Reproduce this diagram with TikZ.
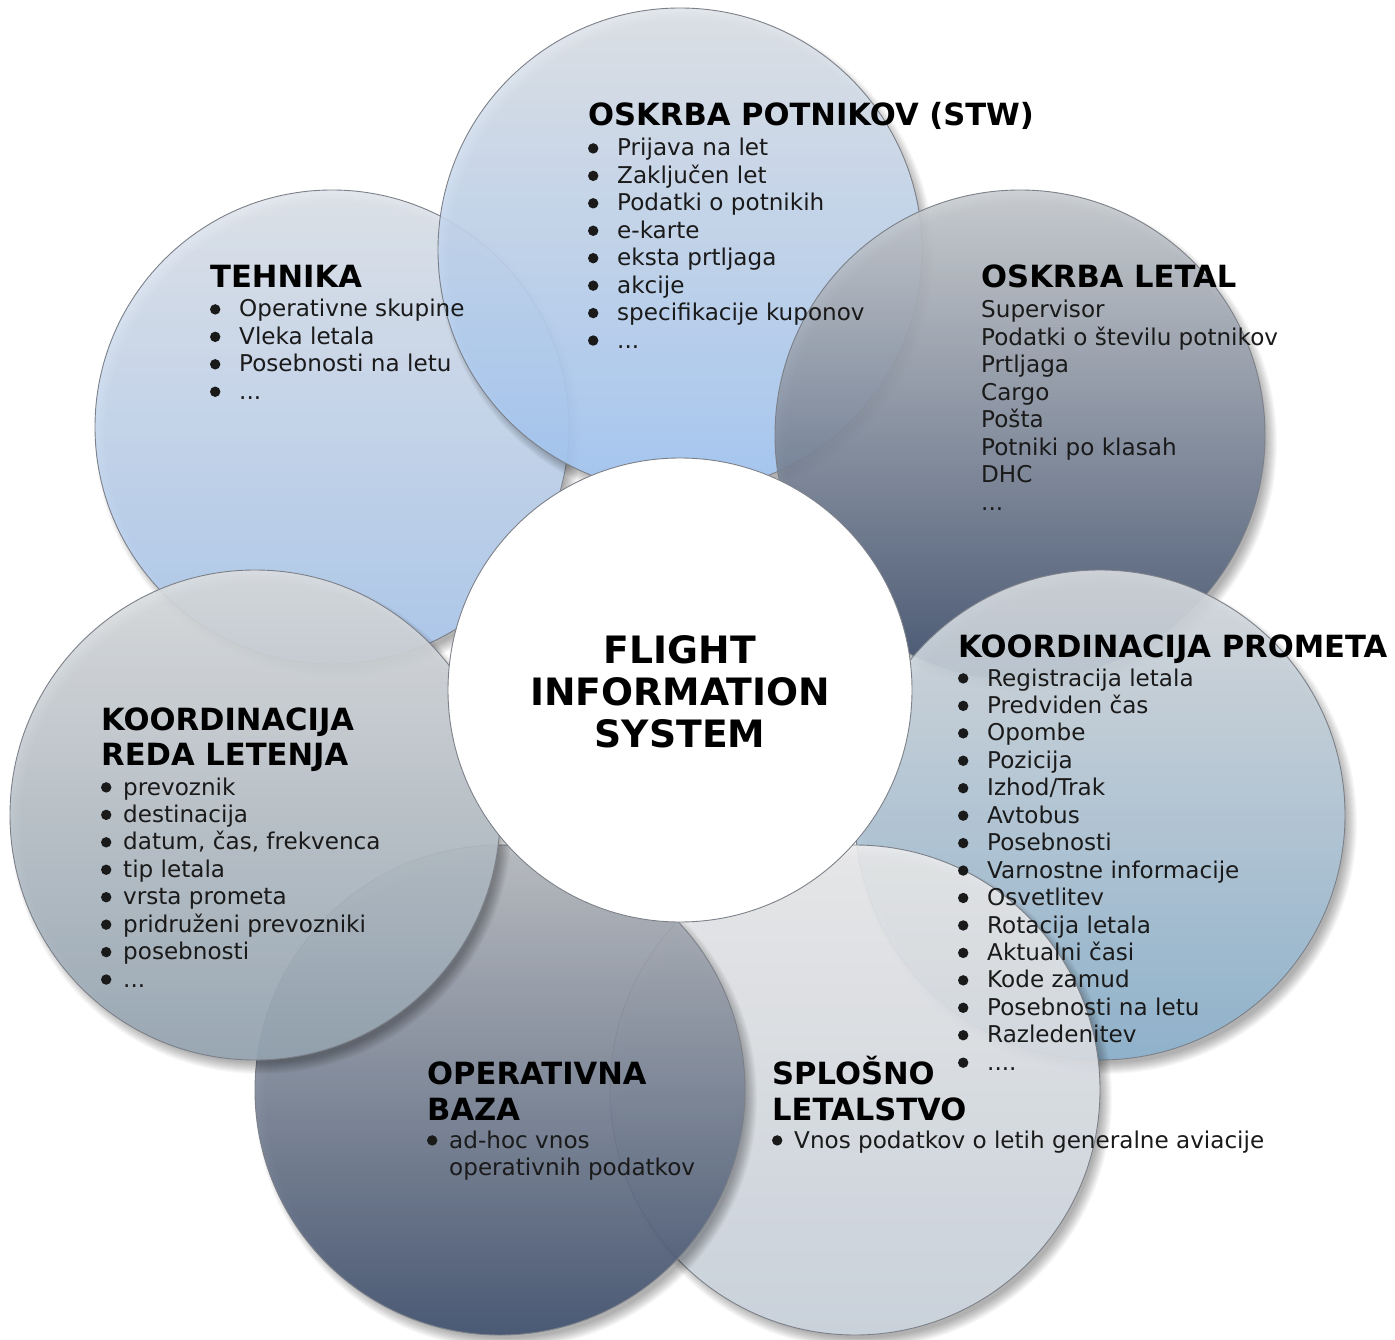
\documentclass[tikz,border=0pt]{standalone}
\usepackage{fontspec}
\setmainfont{DejaVu Sans}
\definecolor{txt}{HTML}{1A1A1A}
\definecolor{rim}{HTML}{7C8088}
\definecolor{techA}{HTML}{E0E5EC}\definecolor{techB}{HTML}{ABC9F0}
\definecolor{potnA}{HTML}{E0E4E9}\definecolor{potnB}{HTML}{A4C8F6}
\definecolor{letA}{HTML}{C9CDD1}\definecolor{letB}{HTML}{3E4E6C}
\definecolor{kpA}{HTML}{D9DCE0}\definecolor{kpB}{HTML}{8CB2CE}
\definecolor{slA}{HTML}{ECECED}\definecolor{slB}{HTML}{CCD5DF}
\definecolor{obA}{HTML}{B8BCC1}\definecolor{obB}{HTML}{40506E}
\definecolor{krlA}{HTML}{DCDEE0}\definecolor{krlB}{HTML}{97A7B4}
\newcommand\threedots{...}
\newcommand\fourdots{....}
\newcommand\shadowat[3]{%
  \foreach \k in {0,...,11} {\fill[black, opacity=0.028] (#1+6,#2+8) circle ({#3+6-\k});}}
% bullet x, text x, first baseline, name prefix, items
\newcommand\blist[5]{%
  \foreach \t [count=\i from 0] in {#5} {%
    \fill[txt] (#1+5.2, #3+27.45*\i-7.6) circle (5.2);
    \node[item, anchor=base west] (#4\i) at (#2, #3+27.45*\i) {\t};}}
\newcommand\plist[4]{%
  \foreach \t [count=\i from 0] in {#4} {%
    \node[item, anchor=base west] (#3\i) at (#1, #2+27.45*\i) {\t};}}
\begin{document}
\begin{tikzpicture}[x=1pt,y=-1pt,
  bubble/.style={circle, inner sep=0pt, draw=rim, line width=0.9pt, fill opacity=0.9},
  ttl/.style={font=\fontsize{30.6}{35}\selectfont\bfseries, text=black, inner sep=0pt},
  item/.style={font=\fontsize{23.1}{27}\selectfont, text=txt, inner sep=0pt},
  big/.style={font=\fontsize{37.7}{42}\selectfont\bfseries, text=black, inner sep=0pt}]
\useasboundingbox (0,0) rectangle (1395,1340);
\fill[white] (0,0) rectangle (1395,1340);

% outer bubbles, in stacking order
\shadowat{332}{427}{237}
\node[bubble, minimum size=474pt, top color=techA, bottom color=techB] (tech) at (332,427) {};
\shadowat{680}{250}{242}
\node[bubble, minimum size=484pt, top color=potnA, bottom color=potnB] (potn) at (680,250) {};
\shadowat{1020}{435}{245}
\node[bubble, minimum size=490pt, top color=letA, bottom color=letB] (letal) at (1020,435) {};
\shadowat{1100}{815}{245}
\node[bubble, minimum size=490pt, top color=kpA, bottom color=kpB] (kp) at (1100,815) {};
\shadowat{855}{1090}{245}
\node[bubble, minimum size=490pt, top color=slA, bottom color=slB] (sl) at (855,1090) {};
\shadowat{500}{1090}{245}
\node[bubble, minimum size=490pt, top color=obA, bottom color=obB] (ob) at (500,1090) {};
\shadowat{255}{815}{245}
\node[bubble, minimum size=490pt, top color=krlA, bottom color=krlB] (krl) at (255,815) {};

% centre
\node[circle, inner sep=0pt, minimum size=464pt, fill=white, draw=rim, line width=0.9pt] (fis) at (680,690) {};
\node[big, anchor=base] (f1) at (680,663.5) {FLIGHT};
\node[big, anchor=base] (f2) at (680,705.5) {INFORMATION};
\node[big, anchor=base] (f3) at (680,747.5) {SYSTEM};

% OSKRBA POTNIKOV
\node[ttl, anchor=base west] (tp) at (588,126) {OSKRBA POTNIKOV (STW)};
\blist{588}{617}{156}{p}{Prijava na let, Zaključen let, Podatki o potnikih, e-karte, eksta prtljaga, akcije, specifikacije kuponov, \threedots}

% TEHNIKA
\node[ttl, anchor=base west] (tt) at (210,288) {TEHNIKA};
\blist{210}{239}{317}{t}{Operativne skupine, Vleka letala, Posebnosti na letu, \threedots}

% OSKRBA LETAL
\node[ttl, anchor=base west] (tl) at (981,288) {OSKRBA LETAL};
\plist{981}{318}{l}{Supervisor, Podatki o številu potnikov, Prtljaga, Cargo, Pošta, Potniki po klasah, DHC, \threedots}

% KOORDINACIJA PROMETA
\node[ttl, anchor=base west] (tk) at (958,657) {KOORDINACIJA PROMETA};
\blist{958}{987}{686}{k}{Registracija letala, Predviden čas, Opombe, Pozicija, Izhod/Trak, Avtobus, Posebnosti, Varnostne informacije, Osvetlitev, Rotacija letala, Aktualni časi, Kode zamud, Posebnosti na letu, Razledenitev, \fourdots}

% KOORDINACIJA REDA LETENJA
\node[ttl, anchor=base west] (tr1) at (101,730) {KOORDINACIJA};
\node[ttl, anchor=base west] (tr2) at (101,765) {REDA LETENJA};
\blist{101}{123}{795}{r}{prevoznik, destinacija, {datum, čas, frekvenca}, tip letala, vrsta prometa, pridruženi prevozniki, posebnosti, \threedots}

% OPERATIVNA BAZA
\node[ttl, anchor=base west] (to1) at (427,1084) {OPERATIVNA};
\node[ttl, anchor=base west] (to2) at (427,1120) {BAZA};
\blist{427}{449}{1148}{o}{ad-hoc vnos}
\node[item, anchor=base west] (o1) at (449,1175.5) {operativnih podatkov};

% SPLOSNO LETALSTVO
\node[ttl, anchor=base west] (ts1) at (772,1084) {SPLOŠNO};
\node[ttl, anchor=base west] (ts2) at (772,1120) {LETALSTVO};
\blist{772}{794}{1148}{s}{Vnos podatkov o letih generalne aviacije}
\end{tikzpicture}
\end{document}
